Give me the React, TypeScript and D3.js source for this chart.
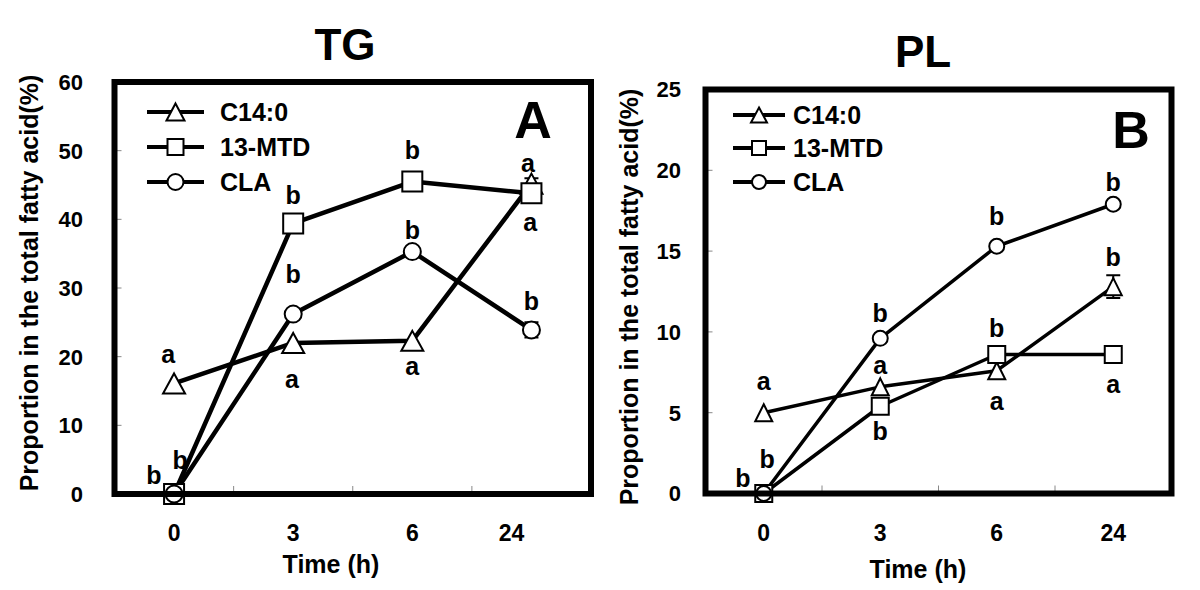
import { useEffect, useRef } from "react";
import * as d3 from "d3";

// Time points (categories) and series names
const times = ["0", "3", "6", "24"];
const seriesNames = ["C14:0", "13-MTD", "CLA"];
const shapes = ["triangle", "square", "circle"];

// Panel A - TG
const tgC14 = [16.1, 22.0, 22.3, 45.2];
const tgMTD = [0, 39.4, 45.5, 43.8];
const tgCLA = [0, 26.2, 35.3, 23.9];
const tgC14Err = [0, 0, 0, 0.8];
const tgMTDErr = [0, 0, 0, 0];
const tgCLAErr = [0, 0, 0, 1.1];
const tgTicks = [0, 10, 20, 30, 40, 50, 60];
// significance letters: x = time index (fractional), y = data value of baseline
const tgLetters = [
    { x: -0.05, y: 19.1, t: "a" },
    { x: -0.17, y: 1.5, t: "b" },
    { x: 0.05, y: 3.7, t: "b" },
    { x: 1.0, y: 42.2, t: "b" },
    { x: 1.0, y: 30.8, t: "b" },
    { x: 0.99, y: 15.4, t: "a" },
    { x: 2.0, y: 48.8, t: "b" },
    { x: 2.0, y: 37.1, t: "b" },
    { x: 2.0, y: 17.3, t: "a" },
    { x: 2.97, y: 46.9, t: "a" },
    { x: 2.99, y: 38.3, t: "a" },
    { x: 3.0, y: 26.8, t: "b" },
];

// Panel B - PL
const plC14 = [5.0, 6.6, 7.6, 12.8];
const plMTD = [0, 5.4, 8.6, 8.6];
const plCLA = [0, 9.6, 15.3, 17.9];
const plC14Err = [0, 0, 0, 0.7];
const plMTDErr = [0, 0, 0, 0];
const plCLAErr = [0, 0, 0, 0.2];
const plTicks = [0, 5, 10, 15, 20, 25];
const plLetters = [
    { x: 0.0, y: 6.4, t: "a" },
    { x: -0.18, y: 0.4, t: "b" },
    { x: 0.03, y: 1.55, t: "b" },
    { x: 1.0, y: 10.6, t: "b" },
    { x: 1.0, y: 7.4, t: "a" },
    { x: 1.0, y: 3.3, t: "b" },
    { x: 2.0, y: 16.6, t: "b" },
    { x: 2.0, y: 9.7, t: "b" },
    { x: 2.0, y: 5.15, t: "a" },
    { x: 3.0, y: 18.7, t: "b" },
    { x: 3.0, y: 14.1, t: "b" },
    { x: 3.0, y: 6.2, t: "a" },
];

const FONT = "'Liberation Sans', Arial, sans-serif";

type Panel = {
    title: string;
    tag: string;
    series: number[][];
    errs: number[][];
    ticks: number[];
    letters: { x: number; y: number; t: string }[];
    box: { x0: number; x1: number; y0: number; y1: number };
    titlePos: [number, number];
    tagPos: [number, number];
    tickLabelX: number;
    yTitle: [number, number];
    xLabelShift: number[];
    xTitle: [number, number];
    legend: { x0: number; x1: number; textX: number; rows: number[] };
    mk: { tri: [number, number]; sq: number; r: number };
    lmk: { tri: [number, number]; sq: number; r: number };
    lineW: number;
};

function markerPath(shape: string, m: { tri: [number, number]; sq: number; r: number }) {
    if (shape === "triangle") {
        const [w, h] = m.tri;
        return `M0,${-h / 2}L${w / 2},${h / 2}L${-w / 2},${h / 2}Z`;
    }
    if (shape === "square") {
        const s = m.sq / 2;
        return `M${-s},${-s}H${s}V${s}H${-s}Z`;
    }
    const r = m.r;
    return `M${r},0A${r},${r} 0 1,1 ${-r},0A${r},${r} 0 1,1 ${r},0Z`;
}

function drawPanel(svg: d3.Selection<SVGSVGElement, unknown, null, undefined>, p: Panel) {
    const g = svg.append("g");
    const { box } = p;

    const x = d3.scaleLinear().domain([-0.5, times.length - 0.5]).range([box.x0, box.x1]);
    const y = d3.scaleLinear().domain([0, p.ticks[p.ticks.length - 1]]).range([box.y1, box.y0]);

    // title
    g.append("text")
        .attr("x", p.titlePos[0]).attr("y", p.titlePos[1])
        .attr("text-anchor", "middle")
        .style("font", `bold 44px ${FONT}`)
        .text(p.title);

    // inner ticks (y)
    g.selectAll("line.yt")
        .data(p.ticks.slice(1, -1))
        .enter()
        .append("line")
        .attr("x1", box.x0).attr("x2", box.x0 + 7)
        .attr("y1", (d) => y(d)).attr("y2", (d) => y(d))
        .attr("stroke", "#888").attr("stroke-width", 1);

    // inner ticks (x, at category boundaries)
    g.selectAll("line.xt")
        .data(d3.range(1, times.length))
        .enter()
        .append("line")
        .attr("x1", (d) => x(d - 0.5)).attr("x2", (d) => x(d - 0.5))
        .attr("y1", box.y1).attr("y2", box.y1 - 8)
        .attr("stroke", "#888").attr("stroke-width", 1);

    // y tick labels
    g.selectAll("text.yl")
        .data(p.ticks)
        .enter()
        .append("text")
        .attr("x", p.tickLabelX)
        .attr("y", (d) => y(d))
        .attr("dy", "0.36em")
        .attr("text-anchor", "end")
        .style("font", `bold 22px ${FONT}`)
        .text((d) => d);

    // x tick labels
    g.selectAll("text.xl")
        .data(times)
        .enter()
        .append("text")
        .attr("x", (_, i) => x(i) + p.xLabelShift[i])
        .attr("y", 541)
        .attr("text-anchor", "middle")
        .style("font", `bold 23px ${FONT}`)
        .text((d) => d);

    // axis titles
    g.append("text")
        .attr("x", p.xTitle[0])
        .attr("y", p.xTitle[1])
        .attr("text-anchor", "middle")
        .style("font", `bold 25px ${FONT}`)
        .text("Time (h)");

    g.append("text")
        .attr("transform", `translate(${p.yTitle[0]},${p.yTitle[1]}) rotate(-90)`)
        .attr("text-anchor", "middle")
        .style("font", `bold 25px ${FONT}`)
        .text("Proportion in the total fatty acid(%)");

    // series lines
    const line = d3.line<number>().x((_, i) => x(i)).y((d) => y(d));
    p.series.forEach((s) => {
        g.append("path")
            .attr("d", line(s)!)
            .attr("fill", "none")
            .attr("stroke", "#000")
            .attr("stroke-width", p.lineW)
            .attr("stroke-linejoin", "round");
    });

    // error bars + markers
    p.series.forEach((s, si) => {
        s.forEach((v, i) => {
            const e = p.errs[si][i];
            if (e > 0) {
                const cx = x(i);
                g.append("path")
                    .attr("d", `M${cx - 7},${y(v + e)}H${cx + 7}M${cx},${y(v + e)}V${y(v - e)}M${cx - 7},${y(v - e)}H${cx + 7}`)
                    .attr("stroke", "#000").attr("stroke-width", 2).attr("fill", "none");
            }
        });
        g.selectAll(null)
            .data(s)
            .enter()
            .append("path")
            .attr("transform", (d, i) => `translate(${x(i)},${y(d)})`)
            .attr("d", markerPath(shapes[si], p.mk))
            .attr("fill", "#fff")
            .attr("stroke", "#000")
            .attr("stroke-width", 2);
    });

    // significance letters
    g.selectAll("text.sig")
        .data(p.letters)
        .enter()
        .append("text")
        .attr("x", (d) => x(d.x))
        .attr("y", (d) => y(d.y))
        .attr("text-anchor", "middle")
        .style("font", `bold 25px ${FONT}`)
        .text((d) => d.t);

    // legend
    const lg = p.legend;
    seriesNames.forEach((name, i) => {
        const ry = lg.rows[i];
        g.append("line")
            .attr("x1", lg.x0).attr("x2", lg.x1)
            .attr("y1", ry).attr("y2", ry)
            .attr("stroke", "#000").attr("stroke-width", 4);
        g.append("path")
            .attr("transform", `translate(${(lg.x0 + lg.x1) / 2},${ry})`)
            .attr("d", markerPath(shapes[i], p.lmk))
            .attr("fill", "#fff").attr("stroke", "#000").attr("stroke-width", 2);
        g.append("text")
            .attr("x", lg.textX).attr("y", ry)
            .attr("dy", "0.36em")
            .style("font", `bold 25px ${FONT}`)
            .text(name);
    });

    // panel tag
    g.append("text")
        .attr("x", p.tagPos[0]).attr("y", p.tagPos[1])
        .attr("text-anchor", "middle")
        .style("font", `bold 52px ${FONT}`)
        .text(p.tag);

    // frame
    g.append("rect")
        .attr("x", box.x0).attr("y", box.y0)
        .attr("width", box.x1 - box.x0).attr("height", box.y1 - box.y0)
        .attr("fill", "none")
        .attr("stroke", "#000")
        .attr("stroke-width", 6);
}

export default function App() {
    const ref = useRef<SVGSVGElement | null>(null);

    useEffect(() => {
        const svg = d3.select(ref.current!);
        svg.selectAll("*").remove();
        svg.append("rect").attr("width", 1200).attr("height", 590).attr("fill", "#fff");

        drawPanel(svg, {
            title: "TG",
            tag: "A",
            series: [tgC14, tgMTD, tgCLA],
            errs: [tgC14Err, tgMTDErr, tgCLAErr],
            ticks: tgTicks,
            letters: tgLetters,
            box: { x0: 114.5, x1: 591, y0: 82, y1: 494 },
            titlePos: [345, 60],
            tagPos: [533, 138],
            tickLabelX: 83,
            yTitle: [38, 283],
            xLabelShift: [0, 0, 0, -20],
            xTitle: [331, 573],
            legend: { x0: 147, x1: 204, textX: 220, rows: [112, 147, 182] },
            mk: { tri: [22, 20], sq: 20, r: 8.5 },
            lmk: { tri: [18, 17], sq: 16, r: 8 },
            lineW: 4.5,
        });

        drawPanel(svg, {
            title: "PL",
            tag: "B",
            series: [plC14, plMTD, plCLA],
            errs: [plC14Err, plMTDErr, plCLAErr],
            ticks: plTicks,
            letters: plLetters,
            box: { x0: 705.5, x1: 1171.5, y0: 89.5, y1: 493.5 },
            titlePos: [923, 67],
            tagPos: [1131, 148],
            tickLabelX: 681,
            yTitle: [638, 297],
            xLabelShift: [0, 0, 0, 0],
            xTitle: [918, 578],
            legend: { x0: 733, x1: 785, textX: 793, rows: [115, 148, 182] },
            mk: { tri: [17, 17], sq: 17, r: 7.5 },
            lmk: { tri: [16, 15], sq: 14, r: 7 },
            lineW: 3.5,
        });
    }, []);

    return (
        <svg
            ref={ref}
            width={1200}
            height={590}
            style={{ position: "absolute", left: 0, top: 0 }}
        />
    );
}
